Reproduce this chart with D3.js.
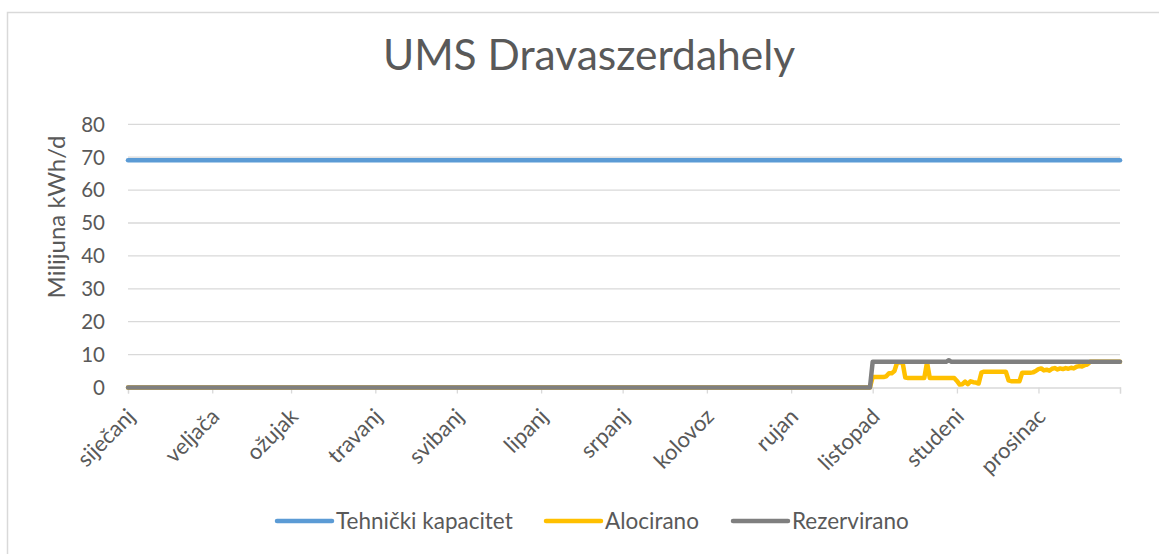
<!DOCTYPE html>
<html lang="hr">
<head>
    <meta charset="UTF-8">
    <title>UMS Dravaszerdahely</title>
    <style>
        body { margin: 0; background: #fff; }
        svg { display: block; font-family: Lato, "Open Sans", sans-serif; }
    </style>
    <script src="https://d3js.org/d3.v7.min.js"></script>
</head>
<body>
<div id="chart"></div>
<script>
    // ---- data ----
    const monthLabels = ["siječanj", "veljača", "ožujak", "travanj", "svibanj", "lipanj",
        "srpanj", "kolovoz", "rujan", "listopad", "studeni", "prosinac"];
    const yTicks = [0, 10, 20, 30, 40, 50, 60, 70, 80];

    // Tehnički kapacitet: flat all year
    const tehDates = ["2020-01-01", "2020-12-31"];
    const tehValues = [69.1, 69.1];

    // Rezervirano: zero until October, then ~7.8
    const rezDates = ["2020-01-01", "2020-09-30", "2020-10-01", "2020-10-28", "2020-10-29", "2020-10-30", "2020-12-31"];
    const rezValues = [0, 0, 7.8, 7.8, 8.3, 7.8, 7.8];

    // Alocirano: zero until October, then daily values Oct 1 .. Dec 31
    const alocZeroDates = ["2020-01-01", "2020-09-30"];
    const alocDailyStart = "2020-10-01";
    const alocOct = [3.2, 3.2, 3.2, 3.2, 3.2, 3.4, 4.3, 4.3, 5.0, 7.6, 7.6, 7.6, 3.0, 2.9, 2.9, 2.9,
        2.9, 2.9, 2.9, 2.9, 7.6, 2.9, 2.9, 2.9, 2.9, 2.9, 2.9, 2.9, 2.9, 2.9, 2.9];
    const alocNov = [2.0, 0.9, 1.0, 1.8, 1.0, 1.9, 1.6, 1.5, 1.2, 4.5, 4.8, 4.8, 4.8, 4.8, 4.8,
        4.8, 4.8, 4.8, 4.8, 2.2, 1.9, 1.9, 1.9, 1.9, 4.5, 4.5, 4.5, 4.5, 4.6, 5.0];
    const alocDec = [5.6, 5.8, 5.2, 5.4, 5.1, 5.7, 5.9, 5.5, 5.8, 5.6, 5.9, 5.7, 6.0, 5.8, 6.3,
        6.5, 6.4, 6.8, 7.0, 7.8, 7.8, 7.8, 7.8, 7.8, 7.8, 7.8, 7.8, 7.8, 7.8, 7.8, 7.8];

    const parse = d3.timeParse("%Y-%m-%d");
    const zip = (dates, values) => dates.map((d, i) => ({ date: parse(d), value: values[i] }));

    const alocDaily = alocOct.concat(alocNov, alocDec);
    const alocStart = parse(alocDailyStart);
    const alocData = zip(alocZeroDates, [0, 0]).concat(
        alocDaily.map((v, i) => ({ date: d3.timeDay.offset(alocStart, i), value: v })));

    const series = [
        { name: "Tehnički kapacitet", color: "#5B9BD5", data: zip(tehDates, tehValues) },
        { name: "Alocirano", color: "#FFC000", data: alocData },
        { name: "Rezervirano", color: "#7F7F7F", data: zip(rezDates, rezValues) }
    ];

    // ---- layout ----
    const width = 1159, height = 554;
    const plot = { left: 128, right: 1120, top: 124.3, bottom: 387.5 };
    const textColor = "#595959";

    const svg = d3.select("#chart").append("svg")
        .attr("width", width)
        .attr("height", height);

    // chart frame
    svg.append("rect")
        .attr("x", 7.5).attr("y", 12.5)
        .attr("width", width + 20).attr("height", height + 20)
        .attr("fill", "none")
        .attr("stroke", "#D9D9D9")
        .attr("stroke-width", 1.5);

    const x = d3.scaleTime()
        .domain([parse("2020-01-01"), parse("2020-12-31")])
        .range([plot.left, plot.right]);

    const y = d3.scaleLinear()
        .domain([0, 80])
        .range([plot.bottom, plot.top]);

    // title
    svg.append("text")
        .attr("x", 589).attr("y", 70)
        .attr("text-anchor", "middle")
        .attr("font-size", 42.5)
        .attr("font-weight", 400)
        .attr("fill", textColor)
        .text("UMS Dravaszerdahely");

    // gridlines
    svg.append("g")
        .selectAll("line")
        .data(yTicks.filter(d => d > 0))
        .enter().append("line")
        .attr("x1", plot.left).attr("x2", plot.right)
        .attr("y1", d => y(d)).attr("y2", d => y(d))
        .attr("stroke", "#D9D9D9")
        .attr("stroke-width", 1.3);

    // y axis labels
    svg.append("g")
        .selectAll("text")
        .data(yTicks)
        .enter().append("text")
        .attr("x", 105)
        .attr("y", d => y(d))
        .attr("dy", "0.36em")
        .attr("text-anchor", "end")
        .attr("font-size", 20.5)
        .attr("fill", textColor)
        .text(d => d);

    svg.append("text")
        .attr("transform", `translate(65,217) rotate(-90)`)
        .attr("text-anchor", "middle")
        .attr("font-size", 24)
        .attr("fill", textColor)
        .text("Milijuna kWh/d");

    // x axis
    const monthStarts = d3.timeMonth.range(parse("2020-01-01"), parse("2021-01-01"));
    const tickDates = monthStarts.concat([parse("2020-12-31")]);

    const xAxis = svg.append("g")
        .attr("transform", `translate(0,${plot.bottom})`)
        .call(d3.axisBottom(x).tickValues(tickDates).tickSize(6).tickFormat(""));
    xAxis.select(".domain").attr("stroke", "#D9D9D9").attr("stroke-width", 1.3);
    xAxis.selectAll(".tick line").attr("stroke", "#D9D9D9").attr("stroke-width", 1.3);

    svg.append("g")
        .selectAll("text")
        .data(monthStarts)
        .enter().append("text")
        .attr("transform", d => `translate(${x(d) + 3},${plot.bottom + 25}) rotate(-45)`)
        .attr("dy", "0.35em")
        .attr("text-anchor", "end")
        .attr("font-size", 22)
        .attr("fill", textColor)
        .text((d, i) => monthLabels[i]);

    // lines
    const line = d3.line()
        .x(d => x(d.date))
        .y(d => y(d.value));

    svg.append("g")
        .selectAll("path")
        .data(series)
        .enter().append("path")
        .attr("d", d => line(d.data))
        .attr("fill", "none")
        .attr("stroke", d => d.color)
        .attr("stroke-width", 4.5)
        .attr("stroke-linejoin", "round")
        .attr("stroke-linecap", "round");

    // legend
    const legendX = [277, 546, 733];
    const legend = svg.append("g")
        .selectAll("g")
        .data(series)
        .enter().append("g")
        .attr("transform", (d, i) => `translate(${legendX[i]},521)`);

    legend.append("line")
        .attr("x1", 0).attr("x2", 55)
        .attr("stroke", d => d.color)
        .attr("stroke-width", 4.5)
        .attr("stroke-linecap", "round");

    legend.append("text")
        .attr("x", 59)
        .attr("dy", "0.35em")
        .attr("font-size", 22.5)
        .attr("fill", textColor)
        .text(d => d.name);
</script>
</body>
</html>
